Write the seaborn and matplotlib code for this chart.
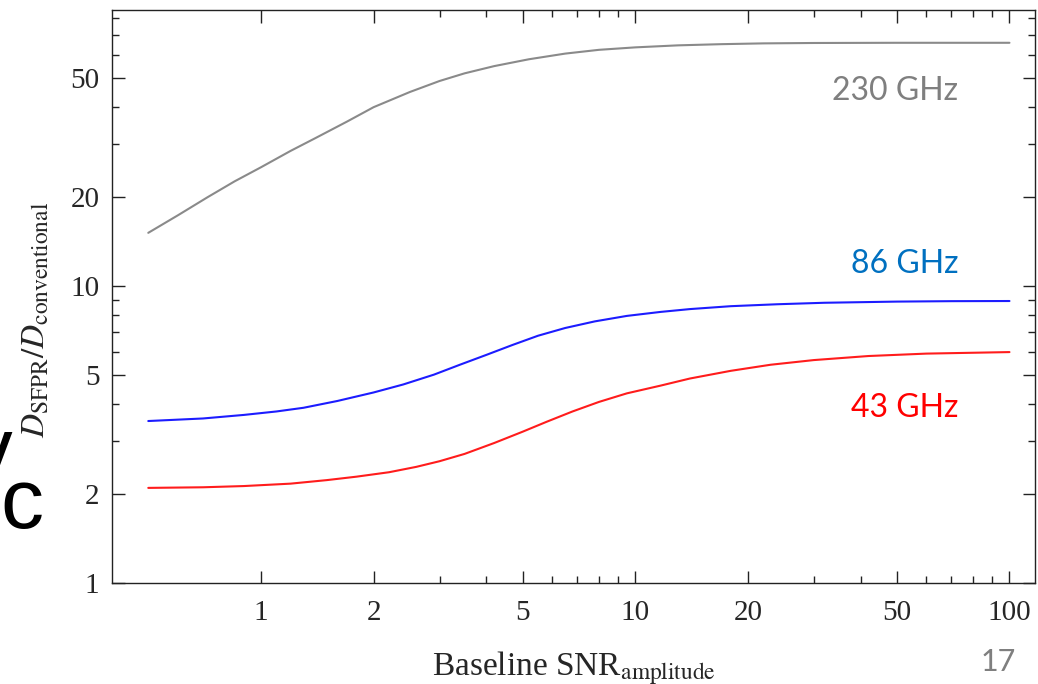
import numpy as np
import pandas as pd
import seaborn as sns
import matplotlib.pyplot as plt
from matplotlib.ticker import FixedLocator, FixedFormatter, NullFormatter

# values (log-log)
snr_230 = [0.5, 0.6, 0.72, 0.85, 1.0, 1.2, 1.4, 1.7, 2.0, 2.5, 3.0, 3.5, 4.2,
           5.2, 6.5, 8.0, 10, 13, 17, 22, 30, 50, 100]
ratio_230 = [15.1, 17.3, 19.9, 22.5, 25.1, 28.5, 31.5, 35.8, 40.0, 45.0, 49.0,
             52.0, 55.0, 58.0, 60.6, 62.4, 63.6, 64.6, 65.2, 65.6, 65.8, 65.9, 65.9]

snr_86 = [0.5, 0.7, 0.9, 1.1, 1.3, 1.6, 2.0, 2.4, 2.9, 3.4, 4.0, 4.7, 5.5, 6.5,
          7.8, 9.5, 11.7, 14, 18, 24, 32, 50, 70, 100]
ratio_86 = [3.51, 3.58, 3.68, 3.78, 3.89, 4.10, 4.38, 4.66, 5.03, 5.43, 5.86,
            6.33, 6.80, 7.22, 7.60, 7.93, 8.18, 8.36, 8.55, 8.68, 8.78, 8.86,
            8.89, 8.90]

snr_43 = [0.5, 0.7, 0.9, 1.2, 1.5, 1.8, 2.2, 2.6, 3.0, 3.5, 4.2, 5.0, 5.8, 6.8,
          8.0, 9.5, 11.7, 14, 18, 23, 30, 42, 60, 100]
ratio_43 = [2.09, 2.10, 2.12, 2.16, 2.22, 2.28, 2.36, 2.46, 2.57, 2.72, 2.96,
            3.23, 3.49, 3.78, 4.07, 4.35, 4.62, 4.88, 5.18, 5.43, 5.63, 5.81,
            5.92, 5.99]

bands = ["230 GHz", "86 GHz", "43 GHz"]
line_colors = {"230 GHz": "#8a8a8a", "86 GHz": "#1c1cff", "43 GHz": "#ff1c1c"}
text_colors = {"230 GHz": "#7f7f7f", "86 GHz": "#0070c0", "43 GHz": "#ff0000"}

x_major = [1, 2, 5, 10, 20, 50, 100]
x_minor = [3, 4, 6, 7, 8, 9, 30, 40, 60, 70, 80, 90]
y_major = [1, 2, 5, 10, 20, 50]
y_minor = [3, 4, 6, 7, 8, 9, 30, 40, 60, 70, 80]

df = pd.concat([
    pd.DataFrame({"snr": snr_230, "ratio": ratio_230, "band": "230 GHz"}),
    pd.DataFrame({"snr": snr_86, "ratio": ratio_86, "band": "86 GHz"}),
    pd.DataFrame({"snr": snr_43, "ratio": ratio_43, "band": "43 GHz"}),
], ignore_index=True)

sns.set_style("ticks")
plt.rcParams["font.family"] = ["Liberation Serif", "DejaVu Serif"]
plt.rcParams["mathtext.fontset"] = "stix"

fig = plt.figure(figsize=(10.38, 6.84), dpi=100)
ax = fig.add_axes([0.1079, 0.1477, 0.8892, 0.8384])

sns.lineplot(data=df, x="snr", y="ratio", hue="band", hue_order=bands,
             palette=line_colors, estimator=None, sort=True, lw=1.5,
             legend=False, ax=ax)

ax.set_xscale("log")
ax.set_yscale("log")
ax.set_xlim(0.40, 117)
ax.set_ylim(1, 85.3)

ax.xaxis.set_major_locator(FixedLocator(x_major))
ax.xaxis.set_major_formatter(FixedFormatter([str(v) for v in x_major]))
ax.xaxis.set_minor_locator(FixedLocator(x_minor))
ax.xaxis.set_minor_formatter(NullFormatter())
ax.yaxis.set_major_locator(FixedLocator(y_major))
ax.yaxis.set_major_formatter(FixedFormatter([str(v) for v in y_major]))
ax.yaxis.set_minor_locator(FixedLocator(y_minor))
ax.yaxis.set_minor_formatter(NullFormatter())

ax.tick_params(which="both", direction="in", top=True, right=True,
               labelsize=21, width=1.0, color="#222222")
ax.tick_params(which="major", length=9)
ax.tick_params(which="minor", length=5)
ax.tick_params(axis="x", pad=12)
ax.tick_params(axis="y", pad=9)
for s in ax.spines.values():
    s.set_linewidth(1.0)
    s.set_color("#222222")

ax.set_xlabel(r"Baseline SNR$_{\mathrm{amplitude}}$", fontsize=24)
ax.xaxis.set_label_coords(0.5, -0.162)
ax.xaxis.label.set_va("baseline")
ax.set_ylabel(r"$D_{\mathrm{SFPR}}/D_{\mathrm{conventional}}$", fontsize=24)
ax.yaxis.set_label_coords(-0.082, 0.459)
ax.yaxis.label.set_va("center")

# band labels
label_pos = {"230 GHz": 42.3, "86 GHz": 11.1, "43 GHz": 3.62}
for b in bands:
    ax.text(73, label_pos[b], b, ha="right", va="baseline", fontsize=23,
            family=["Lato", "DejaVu Sans"], color=text_colors[b])

# slide fragments
fig.text(1016 / 1038, 1 - 671 / 684, "17", ha="right", va="baseline",
         fontsize=22, family=["Lato", "DejaVu Sans"], color="#7f7f7f")
fig.text(0.0, 1 - 528 / 684, "c", ha="left", va="baseline", fontsize=62,
         family=["Liberation Sans", "DejaVu Sans"], color="black")
fig.text(-29 / 1038, 1 - 476 / 684, "v", ha="left", va="baseline", fontsize=60,
         family=["Liberation Sans", "DejaVu Sans"], color="black")

fig.savefig("out.png", dpi=100)
